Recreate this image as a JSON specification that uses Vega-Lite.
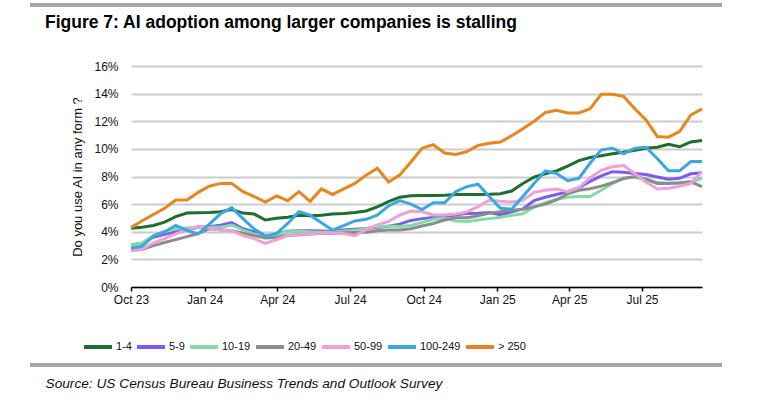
{
  "$schema": "https://vega.github.io/schema/vega-lite/v6.json",
  "width": 571,
  "height": 221,
  "autosize": {"type": "none"},
  "padding": {"left": 131, "top": 66, "right": 56, "bottom": 123},
  "background": "white",
  "title": {
    "text": "Figure 7: AI adoption among larger companies is stalling",
    "anchor": "start",
    "frame": "group",
    "dx": -86,
    "dy": 28,
    "offset": 0,
    "font": "Liberation Sans",
    "fontSize": 17.5,
    "fontWeight": "bold",
    "color": "#000000"
  },
  "data": {
    "values": [
      {"date": "2023-10-01", "1-4": 4.25, "5-9": 3.04, "10-19": 3.0, "20-49": 2.68, "50-99": 2.63, "100-249": 2.8, "> 250": 4.3},
      {"date": "2023-10-15", "1-4": 4.33, "5-9": 3.17, "10-19": 3.2, "20-49": 2.72, "50-99": 2.73, "100-249": 2.95, "> 250": 4.8},
      {"date": "2023-10-29", "1-4": 4.45, "5-9": 3.6, "10-19": 3.7, "20-49": 3.0, "50-99": 3.2, "100-249": 3.7, "> 250": 5.25},
      {"date": "2023-11-12", "1-4": 4.7, "5-9": 3.82, "10-19": 4.0, "20-49": 3.22, "50-99": 3.5, "100-249": 4.0, "> 250": 5.7},
      {"date": "2023-11-26", "1-4": 5.1, "5-9": 4.0, "10-19": 4.2, "20-49": 3.43, "50-99": 3.85, "100-249": 4.45, "> 250": 6.3},
      {"date": "2023-12-10", "1-4": 5.35, "5-9": 4.15, "10-19": 4.28, "20-49": 3.65, "50-99": 4.15, "100-249": 4.1, "> 250": 6.3},
      {"date": "2023-12-24", "1-4": 5.38, "5-9": 4.33, "10-19": 4.33, "20-49": 3.87, "50-99": 4.4, "100-249": 3.85, "> 250": 6.85},
      {"date": "2024-01-07", "1-4": 5.4, "5-9": 4.37, "10-19": 4.33, "20-49": 4.22, "50-99": 4.27, "100-249": 4.55, "> 250": 7.3},
      {"date": "2024-01-21", "1-4": 5.45, "5-9": 4.48, "10-19": 4.33, "20-49": 4.14, "50-99": 4.1, "100-249": 5.3, "> 250": 7.5},
      {"date": "2024-02-04", "1-4": 5.6, "5-9": 4.66, "10-19": 4.49, "20-49": 4.08, "50-99": 4.08, "100-249": 5.75, "> 250": 7.5},
      {"date": "2024-02-18", "1-4": 5.35, "5-9": 4.22, "10-19": 4.12, "20-49": 3.9, "50-99": 3.72, "100-249": 4.95, "> 250": 6.9},
      {"date": "2024-03-03", "1-4": 5.28, "5-9": 3.98, "10-19": 3.85, "20-49": 3.72, "50-99": 3.5, "100-249": 4.2, "> 250": 6.55},
      {"date": "2024-03-17", "1-4": 4.85, "5-9": 3.7, "10-19": 3.62, "20-49": 3.55, "50-99": 3.15, "100-249": 3.7, "> 250": 6.15},
      {"date": "2024-03-31", "1-4": 4.98, "5-9": 3.8, "10-19": 3.77, "20-49": 3.58, "50-99": 3.42, "100-249": 3.87, "> 250": 6.6},
      {"date": "2024-04-14", "1-4": 5.05, "5-9": 4.03, "10-19": 4.0, "20-49": 3.73, "50-99": 3.72, "100-249": 4.6, "> 250": 6.25},
      {"date": "2024-04-28", "1-4": 5.2, "5-9": 4.07, "10-19": 4.06, "20-49": 3.79, "50-99": 3.82, "100-249": 5.45, "> 250": 6.9},
      {"date": "2024-05-12", "1-4": 5.15, "5-9": 4.07, "10-19": 4.0, "20-49": 3.84, "50-99": 3.86, "100-249": 5.2, "> 250": 6.2},
      {"date": "2024-05-26", "1-4": 5.2, "5-9": 4.05, "10-19": 3.96, "20-49": 3.88, "50-99": 3.9, "100-249": 4.65, "> 250": 7.1},
      {"date": "2024-06-09", "1-4": 5.28, "5-9": 4.02, "10-19": 3.96, "20-49": 3.89, "50-99": 3.93, "100-249": 4.12, "> 250": 6.7},
      {"date": "2024-06-23", "1-4": 5.33, "5-9": 4.13, "10-19": 4.03, "20-49": 3.92, "50-99": 3.88, "100-249": 4.45, "> 250": 7.1},
      {"date": "2024-07-07", "1-4": 5.4, "5-9": 4.18, "10-19": 4.1, "20-49": 3.94, "50-99": 3.72, "100-249": 4.78, "> 250": 7.5},
      {"date": "2024-07-21", "1-4": 5.5, "5-9": 4.23, "10-19": 4.23, "20-49": 3.96, "50-99": 4.15, "100-249": 4.9, "> 250": 8.1},
      {"date": "2024-08-04", "1-4": 5.8, "5-9": 4.3, "10-19": 4.37, "20-49": 4.08, "50-99": 4.5, "100-249": 5.2, "> 250": 8.6},
      {"date": "2024-08-18", "1-4": 6.18, "5-9": 4.4, "10-19": 4.42, "20-49": 4.12, "50-99": 4.75, "100-249": 5.87, "> 250": 7.6},
      {"date": "2024-09-01", "1-4": 6.5, "5-9": 4.55, "10-19": 4.38, "20-49": 4.13, "50-99": 5.2, "100-249": 6.25, "> 250": 8.1},
      {"date": "2024-09-15", "1-4": 6.6, "5-9": 4.82, "10-19": 4.45, "20-49": 4.22, "50-99": 5.5, "100-249": 6.0, "> 250": 9.05},
      {"date": "2024-09-29", "1-4": 6.62, "5-9": 4.95, "10-19": 4.68, "20-49": 4.42, "50-99": 5.45, "100-249": 5.6, "> 250": 10.05},
      {"date": "2024-10-13", "1-4": 6.62, "5-9": 5.03, "10-19": 4.9, "20-49": 4.6, "50-99": 5.22, "100-249": 6.1, "> 250": 10.3},
      {"date": "2024-10-27", "1-4": 6.65, "5-9": 5.12, "10-19": 5.0, "20-49": 4.85, "50-99": 5.22, "100-249": 6.1, "> 250": 9.7},
      {"date": "2024-11-10", "1-4": 6.7, "5-9": 5.22, "10-19": 4.78, "20-49": 5.02, "50-99": 5.28, "100-249": 6.9, "> 250": 9.6},
      {"date": "2024-11-24", "1-4": 6.7, "5-9": 5.33, "10-19": 4.74, "20-49": 5.02, "50-99": 5.44, "100-249": 7.27, "> 250": 9.8},
      {"date": "2024-12-08", "1-4": 6.7, "5-9": 5.34, "10-19": 4.85, "20-49": 5.15, "50-99": 5.82, "100-249": 7.44, "> 250": 10.25},
      {"date": "2024-12-22", "1-4": 6.71, "5-9": 5.4, "10-19": 4.95, "20-49": 5.35, "50-99": 6.28, "100-249": 6.55, "> 250": 10.4},
      {"date": "2025-01-05", "1-4": 6.75, "5-9": 5.24, "10-19": 5.05, "20-49": 5.45, "50-99": 6.2, "100-249": 5.7, "> 250": 10.5},
      {"date": "2025-01-19", "1-4": 6.95, "5-9": 5.45, "10-19": 5.2, "20-49": 5.55, "50-99": 6.15, "100-249": 5.63, "> 250": 10.95},
      {"date": "2025-02-02", "1-4": 7.5, "5-9": 5.65, "10-19": 5.3, "20-49": 5.63, "50-99": 6.27, "100-249": 6.55, "> 250": 11.45},
      {"date": "2025-02-16", "1-4": 7.95, "5-9": 6.25, "10-19": 5.8, "20-49": 5.8, "50-99": 6.85, "100-249": 7.5, "> 250": 12.0},
      {"date": "2025-03-02", "1-4": 8.2, "5-9": 6.5, "10-19": 6.1, "20-49": 6.0, "50-99": 7.0, "100-249": 8.4, "> 250": 12.63},
      {"date": "2025-03-16", "1-4": 8.4, "5-9": 6.7, "10-19": 6.35, "20-49": 6.3, "50-99": 7.1, "100-249": 8.22, "> 250": 12.8},
      {"date": "2025-03-30", "1-4": 8.75, "5-9": 6.9, "10-19": 6.5, "20-49": 6.75, "50-99": 6.9, "100-249": 7.7, "> 250": 12.6},
      {"date": "2025-04-13", "1-4": 9.15, "5-9": 7.2, "10-19": 6.55, "20-49": 7.0, "50-99": 7.2, "100-249": 7.87, "> 250": 12.6},
      {"date": "2025-04-27", "1-4": 9.38, "5-9": 7.65, "10-19": 6.55, "20-49": 7.12, "50-99": 7.9, "100-249": 8.96, "> 250": 12.9},
      {"date": "2025-05-11", "1-4": 9.5, "5-9": 8.05, "10-19": 7.0, "20-49": 7.3, "50-99": 8.45, "100-249": 9.93, "> 250": 13.95},
      {"date": "2025-05-25", "1-4": 9.65, "5-9": 8.35, "10-19": 7.5, "20-49": 7.55, "50-99": 8.7, "100-249": 10.05, "> 250": 13.95},
      {"date": "2025-06-08", "1-4": 9.75, "5-9": 8.3, "10-19": 7.9, "20-49": 7.85, "50-99": 8.8, "100-249": 9.64, "> 250": 13.8},
      {"date": "2025-06-22", "1-4": 9.9, "5-9": 8.22, "10-19": 7.95, "20-49": 8.0, "50-99": 8.2, "100-249": 10.05, "> 250": 12.9},
      {"date": "2025-07-06", "1-4": 10.05, "5-9": 8.15, "10-19": 7.8, "20-49": 7.8, "50-99": 7.6, "100-249": 10.12, "> 250": 12.1},
      {"date": "2025-07-20", "1-4": 10.12, "5-9": 7.97, "10-19": 7.56, "20-49": 7.5, "50-99": 7.1, "100-249": 9.3, "> 250": 10.9},
      {"date": "2025-08-03", "1-4": 10.33, "5-9": 7.8, "10-19": 7.51, "20-49": 7.5, "50-99": 7.15, "100-249": 8.41, "> 250": 10.85},
      {"date": "2025-08-17", "1-4": 10.15, "5-9": 7.87, "10-19": 7.51, "20-49": 7.55, "50-99": 7.3, "100-249": 8.41, "> 250": 11.25},
      {"date": "2025-08-31", "1-4": 10.5, "5-9": 8.2, "10-19": 7.6, "20-49": 7.62, "50-99": 7.5, "100-249": 9.08, "> 250": 12.45},
      {"date": "2025-09-14", "1-4": 10.6, "5-9": 8.28, "10-19": 7.87, "20-49": 7.27, "50-99": 8.35, "100-249": 9.08, "> 250": 12.9}
    ]
  },
  "layer": [
    {
      "transform": [
        {"fold": ["1-4", "5-9", "10-19", "20-49", "50-99", "100-249", "> 250"], "as": ["group", "value"]}
      ],
      "mark": {"type": "line", "strokeWidth": 3},
      "encoding": {
        "x": {
          "field": "date",
          "type": "temporal",
          "scale": {
            "type": "utc",
            "domain": [
              {"year": 2023, "month": 10, "date": 1, "utc": true},
              {"year": 2025, "month": 9, "date": 14, "utc": true}
            ]
          },
          "axis": {
            "grid": false,
            "format": "%b %y",
            "values": [
              {"year": 2023, "month": 10, "date": 1, "utc": true},
              {"year": 2024, "month": 1, "date": 1, "utc": true},
              {"year": 2024, "month": 4, "date": 1, "utc": true},
              {"year": 2024, "month": 7, "date": 1, "utc": true},
              {"year": 2024, "month": 10, "date": 1, "utc": true},
              {"year": 2025, "month": 1, "date": 1, "utc": true},
              {"year": 2025, "month": 4, "date": 1, "utc": true},
              {"year": 2025, "month": 7, "date": 1, "utc": true}
            ],
            "domainColor": "#000000",
            "domainWidth": 1.5,
            "tickColor": "#000000",
            "tickWidth": 1.5,
            "tickSize": 4,
            "labelPadding": 3,
            "labelFont": "Liberation Sans",
            "labelFontSize": 12,
            "labelColor": "#111111",
            "labelFlush": false,
            "title": "Source: US Census Bureau Business Trends and Outlook Survey",
            "titleFont": "Liberation Sans",
            "titleFontSize": 13.7,
            "titleFontStyle": "italic",
            "titleFontWeight": "normal",
            "titleColor": "#111111",
            "titleAnchor": "start",
            "titleAlign": "left",
            "titleBaseline": "alphabetic",
            "titleX": -86,
            "titleY": 100
          }
        },
        "y": {
          "field": "value",
          "type": "quantitative",
          "scale": {"domain": [0, 16]},
          "axis": {
            "values": [0, 2, 4, 6, 8, 10, 12, 14, 16],
            "labelExpr": "datum.value + '%'",
            "domain": false,
            "ticks": false,
            "grid": true,
            "gridColor": "#cccccc",
            "gridWidth": 2,
            "labelPadding": 13,
            "labelFont": "Liberation Sans",
            "labelFontSize": 12,
            "labelColor": "#111111",
            "title": "Do you use AI in any form ?",
            "titleFont": "Liberation Sans",
            "titleFontSize": 13,
            "titleFontWeight": "normal",
            "titleColor": "#111111",
            "titlePadding": 9
          }
        },
        "color": {
          "field": "group",
          "type": "nominal",
          "scale": {
            "domain": ["1-4", "5-9", "10-19", "20-49", "50-99", "100-249", "> 250"],
            "range": ["#1e6e2e", "#7b5cf0", "#7fdca4", "#8c8c8c", "#eea0d8", "#3aa8e0", "#e8851c"]
          },
          "legend": {
            "orient": "none",
            "legendX": -49,
            "legendY": 265,
            "direction": "horizontal",
            "title": null,
            "padding": 0,
            "symbolType": "stroke",
            "symbolSize": 784,
            "symbolStrokeWidth": 4,
            "labelFont": "Liberation Sans",
            "labelFontSize": 11,
            "labelColor": "#111111",
            "labelOffset": 2,
            "columnPadding": -3
          }
        }
      }
    },
    {
      "mark": {"type": "rule", "color": "#a6a6a6", "strokeWidth": 3},
      "encoding": {
        "x": {
          "datum": {"year": 2023, "month": 5, "date": 28, "utc": true},
          "type": "temporal",
          "axis": {
            "grid": false,
            "format": "%b %y",
            "values": [
              {"year": 2023, "month": 10, "date": 1, "utc": true},
              {"year": 2024, "month": 1, "date": 1, "utc": true},
              {"year": 2024, "month": 4, "date": 1, "utc": true},
              {"year": 2024, "month": 7, "date": 1, "utc": true},
              {"year": 2024, "month": 10, "date": 1, "utc": true},
              {"year": 2025, "month": 1, "date": 1, "utc": true},
              {"year": 2025, "month": 4, "date": 1, "utc": true},
              {"year": 2025, "month": 7, "date": 1, "utc": true}
            ],
            "domainColor": "#000000",
            "domainWidth": 1.5,
            "tickColor": "#000000",
            "tickWidth": 1.5,
            "tickSize": 4,
            "labelPadding": 3,
            "labelFont": "Liberation Sans",
            "labelFontSize": 12,
            "labelColor": "#111111",
            "labelFlush": false,
            "title": "Source: US Census Bureau Business Trends and Outlook Survey",
            "titleFont": "Liberation Sans",
            "titleFontSize": 13.7,
            "titleFontStyle": "italic",
            "titleFontWeight": "normal",
            "titleColor": "#111111",
            "titleAnchor": "start",
            "titleAlign": "left",
            "titleBaseline": "alphabetic",
            "titleX": -86,
            "titleY": 100
          }
        },
        "x2": {"datum": {"year": 2025, "month": 10, "date": 9, "utc": true}},
        "y": {
          "datum": 20.4,
          "type": "quantitative",
          "axis": {
            "values": [0, 2, 4, 6, 8, 10, 12, 14, 16],
            "labelExpr": "datum.value + '%'",
            "domain": false,
            "ticks": false,
            "grid": true,
            "gridColor": "#cccccc",
            "gridWidth": 2,
            "labelPadding": 13,
            "labelFont": "Liberation Sans",
            "labelFontSize": 12,
            "labelColor": "#111111",
            "title": "Do you use AI in any form ?",
            "titleFont": "Liberation Sans",
            "titleFontSize": 13,
            "titleFontWeight": "normal",
            "titleColor": "#111111",
            "titlePadding": 9
          }
        }
      }
    },
    {
      "mark": {"type": "rule", "color": "#a6a6a6", "strokeWidth": 3},
      "encoding": {
        "x": {
          "datum": {"year": 2023, "month": 5, "date": 28, "utc": true},
          "type": "temporal",
          "axis": {
            "grid": false,
            "format": "%b %y",
            "values": [
              {"year": 2023, "month": 10, "date": 1, "utc": true},
              {"year": 2024, "month": 1, "date": 1, "utc": true},
              {"year": 2024, "month": 4, "date": 1, "utc": true},
              {"year": 2024, "month": 7, "date": 1, "utc": true},
              {"year": 2024, "month": 10, "date": 1, "utc": true},
              {"year": 2025, "month": 1, "date": 1, "utc": true},
              {"year": 2025, "month": 4, "date": 1, "utc": true},
              {"year": 2025, "month": 7, "date": 1, "utc": true}
            ],
            "domainColor": "#000000",
            "domainWidth": 1.5,
            "tickColor": "#000000",
            "tickWidth": 1.5,
            "tickSize": 4,
            "labelPadding": 3,
            "labelFont": "Liberation Sans",
            "labelFontSize": 12,
            "labelColor": "#111111",
            "labelFlush": false,
            "title": "Source: US Census Bureau Business Trends and Outlook Survey",
            "titleFont": "Liberation Sans",
            "titleFontSize": 13.7,
            "titleFontStyle": "italic",
            "titleFontWeight": "normal",
            "titleColor": "#111111",
            "titleAnchor": "start",
            "titleAlign": "left",
            "titleBaseline": "alphabetic",
            "titleX": -86,
            "titleY": 100
          }
        },
        "x2": {"datum": {"year": 2025, "month": 10, "date": 9, "utc": true}},
        "y": {
          "datum": -5.65,
          "type": "quantitative",
          "axis": {
            "values": [0, 2, 4, 6, 8, 10, 12, 14, 16],
            "labelExpr": "datum.value + '%'",
            "domain": false,
            "ticks": false,
            "grid": true,
            "gridColor": "#cccccc",
            "gridWidth": 2,
            "labelPadding": 13,
            "labelFont": "Liberation Sans",
            "labelFontSize": 12,
            "labelColor": "#111111",
            "title": "Do you use AI in any form ?",
            "titleFont": "Liberation Sans",
            "titleFontSize": 13,
            "titleFontWeight": "normal",
            "titleColor": "#111111",
            "titlePadding": 9
          }
        }
      }
    }
  ],
  "config": {"view": {"stroke": null}, "font": "Liberation Sans"}
}
